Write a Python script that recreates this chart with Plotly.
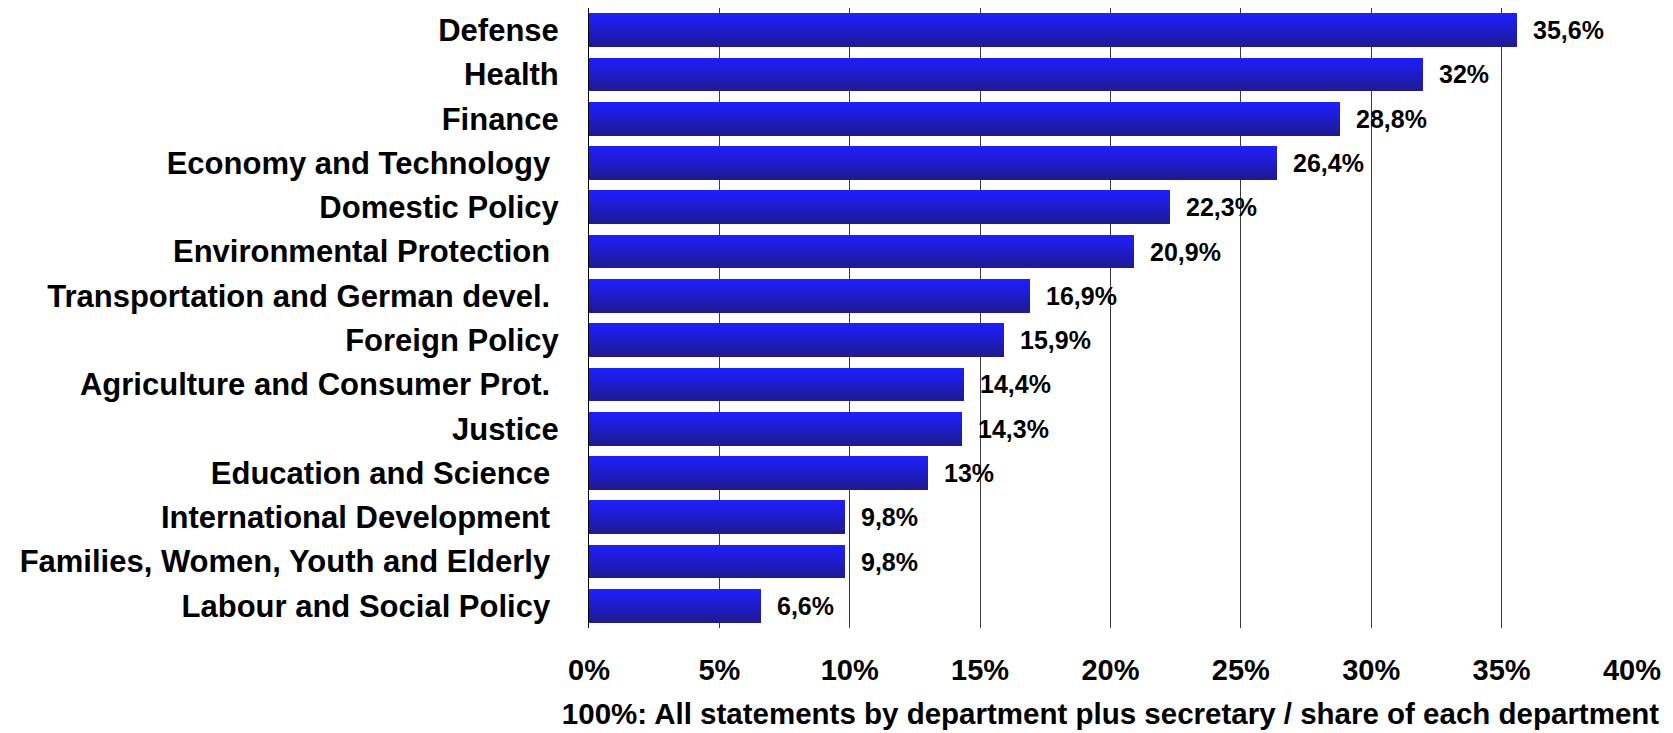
import plotly.graph_objects as go

# Departments, top to bottom, and their share of all statements (%)
departments = [
    "Defense",
    "Health",
    "Finance",
    "Economy and Technology\u00a0",
    "Domestic Policy",
    "Environmental Protection\u00a0",
    "Transportation and German devel.\u00a0",
    "Foreign Policy",
    "Agriculture and Consumer Prot.\u00a0",
    "Justice",
    "Education and Science\u00a0",
    "International Development\u00a0",
    "Families, Women, Youth and Elderly\u00a0",
    "Labour and Social Policy\u00a0",
]
shares = [35.6, 32.0, 28.8, 26.4, 22.3, 20.9, 16.9, 15.9, 14.4, 14.3, 13.0, 9.8, 9.8, 6.6]
share_labels = ["35,6%", "32%", "28,8%", "26,4%", "22,3%", "20,9%", "16,9%",
                "15,9%", "14,4%", "14,3%", "13%", "9,8%", "9,8%", "6,6%"]
x_ticks = [0, 5, 10, 15, 20, 25, 30, 35, 40]
x_title = "100%: All statements by department plus secretary / share of each department"

FONT = "Arial, Liberation Sans, sans-serif"
positions = list(range(len(departments)))

fig = go.Figure()

# Vertical gradient inside each bar: stacked slices from bright top to dark bottom
BAR_W = 0.76
N_SLICES = 18
top_rgb = (30, 30, 255)
bot_rgb = (30, 26, 148)
for i in range(N_SLICES):
    t = i / (N_SLICES - 1)
    r, g, b = (round(a + (c - a) * t) for a, c in zip(top_rgb, bot_rgb))
    start = -BAR_W / 2 + i * BAR_W / N_SLICES
    fig.add_trace(go.Bar(
        x=shares,
        y=positions,
        orientation="h",
        offset=start,
        width=BAR_W - i * BAR_W / N_SLICES,
        marker=dict(color=f"rgb({r},{g},{b})", line=dict(width=0)),
        hoverinfo="skip",
        showlegend=False,
    ))

# Value labels to the right of each bar
for pos, val, lab in zip(positions, shares, share_labels):
    fig.add_annotation(
        x=val, y=pos, text=lab, showarrow=False,
        xanchor="left", yanchor="middle", xshift=14,
        font=dict(family=FONT, size=25, color="black", weight="bold"),
    )

fig.update_layout(
    width=1673, height=733,
    margin=dict(l=589, r=41, t=8, b=100),
    paper_bgcolor="white", plot_bgcolor="white",
    barmode="overlay",
    bargap=0,
    showlegend=False,
    xaxis=dict(
        range=[0, 40],
        tickvals=x_ticks,
        ticktext=[f"{v}%" for v in x_ticks],
        showgrid=True, gridcolor="#3a3a3a", gridwidth=1,
        zeroline=False, showline=False, ticks="",
        ticklabelstandoff=22,
        tickfont=dict(family=FONT, size=29, color="black", weight="bold"),
        title=dict(text=x_title, standoff=18,
                   font=dict(family=FONT, size=29.5, color="black", weight="bold")),
        fixedrange=True,
    ),
    yaxis=dict(
        range=[len(departments) - 0.5, -0.5],
        tickvals=positions,
        ticktext=departments,
        showgrid=False, zeroline=False,
        showline=True, linecolor="black", linewidth=1,
        ticks="", ticklabelstandoff=23,
        tickfont=dict(family=FONT, size=31, color="black", weight="bold"),
        fixedrange=True,
    ),
)

fig.write_html("out.html")
